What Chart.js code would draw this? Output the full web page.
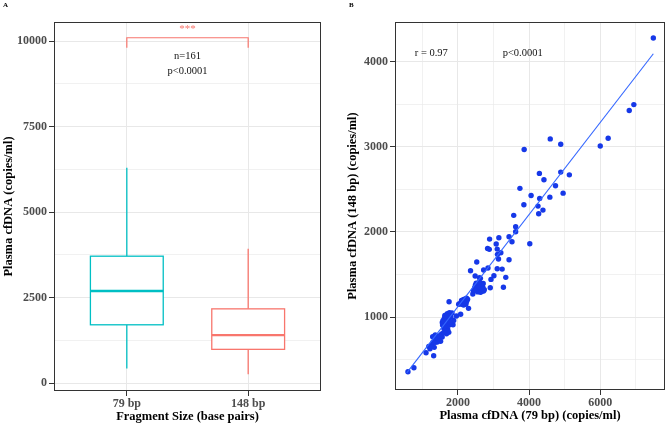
<!DOCTYPE html>
<html><head><meta charset="utf-8">
<script src="https://cdn.jsdelivr.net/npm/chart.js@4.4.1/dist/chart.umd.min.js"></script>
<style>
html,body{margin:0;padding:0;background:#fff;}
#wrap{position:relative;width:669px;height:424px;overflow:hidden;background:#fff;}
#ca{position:absolute;left:0;top:0;width:335px;height:424px;}
#cb{position:absolute;left:335px;top:0;width:334px;height:424px;}
.lab{position:absolute;font:bold 7px 'Liberation Serif';color:#000;}
</style></head><body>
<div id="wrap">
<canvas id="ca" width="335" height="424"></canvas>
<canvas id="cb" width="334" height="424"></canvas>
<div class="lab" style="left:3px;top:1px">A</div>
<div class="lab" style="left:349px;top:1px">B</div>
</div>
<script>
// ---------- Panel A data (box plot) ----------
const groups = ['79 bp', '148 bp'];
const whiskerLow = [427, 262];
const q1 = [1706, 988];
const medians = [2695, 1404];
const q3 = [3712, 2172];
const whiskerHigh = [6300, 3933];
const yTicksA = [0, 2500, 5000, 7500, 10000];
const yMinorA = [1250, 3750, 6250, 8750];
const bracketY = 10100;
const bracketTickY = 9810;
const sigLabel = '***';
const sigY = 10340;
const nLabel = 'n=161';
const nY = 9560;
const pLabelA = 'p<0.0001';
const pYA = 9120;

// ---------- Panel B data (scatter, [79 bp, 148 bp] copies/ml) ----------
const cfdnaPairs = [
 [7492,4277],[6815,3425],[6944,3495],[4594,3092],[4889,3029],[6000,3009],[6222,3100],
 [3861,2968],[4289,2687],[4417,2612],[4889,2702],[5131,2670],[3742,2511],[4742,2541],[4956,2455],
 [4056,2428],[4297,2393],[4583,2408],[3853,2318],[4250,2303],[4389,2256],[3567,2194],[4269,2213],
 [3622,2060],[3622,2001],[3436,1942],[3519,1884],[4019,1860],[2889,1915],[3150,1931],[3075,1857],
 [2833,1806],[2881,1795],[3103,1798],[3111,1736],[3205,1755],[3139,1681],[3436,1673],[2528,1646],
 [2353,1543],[2722,1552],[2844,1575],[3103,1567],[3242,1563],[2483,1481],[2631,1454],[3011,1485],
 [3344,1466],[2928,1442],[2603,1461],
 [2511,1396],[2583,1364],[2678,1376],[2539,1325],[2650,1329],[2694,1317],[2622,1305],[2436,1309],
 [2908,1344],[3278,1349],[2417,1270],
 [2560,1350],[2600,1385],[2700,1345],[2620,1345],[2580,1310],[2740,1320],[2470,1345],[2660,1300],
 [2540,1395],[2590,1330],[2640,1360],[2710,1395],[2490,1375],[2555,1295],[2690,1360],[2610,1410],
 [2525,1340],[2665,1390],[2575,1400],[2720,1305],[2635,1290],[2460,1320],[2600,1355],[2680,1330],
 [2178,1208],[2075,1032],[2047,1156],[2122,1176],[2186,1180],[2220,1150],[2250,1190],[2160,1140],
 [2297,1102],[1750,1180],[1956,1012],[2140,1200],[2200,1205],[2230,1170],[2110,1150],[2270,1210],
 [2190,1165],[2100,1195],[2150,1185],[2240,1220],[2020,1150],
 [1658,1004],[1789,1035],[1833,1047],[1631,1020],[1567,906],[1658,879],[1714,851],[1742,820],
 [1686,933],[1769,910],[1825,930],[1861,910],[1678,804],[1556,765],[1456,769],[1361,789],
 [1289,769],[1511,715],[1417,707],[1361,703],[1269,680],[1333,644],[1214,628],[1103,581],
 [1317,546],[761,405],[594,358],
 [1620,990],[1700,1040],[1560,935],[1720,900],[1650,850],[1600,870],[1700,975],[1750,960],
 [1800,1000],[1880,960],[1450,740],[1400,760],[1300,705],[1180,655],[1520,780],[1640,950],
 [1760,1050],[1600,820],
 [1580,960],[1680,990],[1740,1010],[1690,900],[1620,890],[1780,940],[1540,800],[1480,780],
 [1330,760],[1240,650]
];
const fitX = [560, 7492];
const fitY = [345, 4092];
const xTicksB = [2000, 4000, 6000];
const xMinorB = [1000, 3000, 5000, 7000];
const yTicksB = [1000, 2000, 3000, 4000];
const yMinorB = [500, 1500, 2500, 3500];
const rLabel = 'r = 0.97';
const rLabelX = 1250;
const pLabelB = 'p<0.0001';
const pLabelBX = 3820;
const labelBY = 4100;

// ---------- styling helpers ----------
const SERIF = "'Liberation Serif', 'Times New Roman', serif";
const GRID = '#e8e8e8';
const AXIS = '#333333';
const tickFont = {family: SERIF, size: 12, weight: 'bold'};
const titleFont = {family: SERIF, size: 12.5, weight: 'bold'};

function tickBuilder(major, minor) {
  return scale => {
    const all = major.map(v => ({value: v, isMajor: true}))
      .concat(minor.map(v => ({value: v, isMajor: false})));
    all.sort((a, b) => a.value - b.value);
    scale.ticks = all;
  };
}
const gridOpts = {
  color: ctx => GRID,
  lineWidth: ctx => (ctx.tick && ctx.tick.isMajor) ? 1 : 0.6,
  tickColor: ctx => (ctx.tick && ctx.tick.isMajor) ? AXIS : 'rgba(0,0,0,0)',
  tickLength: 5,
  tickWidth: 1,
  drawTicks: true
};
const frame = {
  id: 'frame',
  afterDraw(chart) {
    const {ctx, chartArea: a} = chart;
    ctx.save();
    ctx.strokeStyle = AXIS;
    ctx.lineWidth = 1;
    const l = Math.round(a.left) + 0.5, t = Math.round(a.top) + 0.5;
    const r = Math.round(a.right) - 0.5, b = Math.round(a.bottom) - 0.5;
    ctx.strokeRect(l, t, r - l, b - t);
    ctx.restore();
  }
};

// ---------- Panel A ----------
const boxColors = ['#00BFC4', '#F8766D'];
const boxPlugin = {
  id: 'boxes',
  afterDatasetsDraw(chart) {
    const ctx = chart.ctx, xs = chart.scales.x, ys = chart.scales.y;
    ctx.save();
    groups.forEach((g, i) => {
      const cx = xs.getPixelForValue(i + 1);
      const half = xs.getPixelForValue(i + 1 + 0.3) - cx;
      const yLo = ys.getPixelForValue(whiskerLow[i]);
      const yQ1 = ys.getPixelForValue(q1[i]);
      const yMed = ys.getPixelForValue(medians[i]);
      const yQ3 = ys.getPixelForValue(q3[i]);
      const yHi = ys.getPixelForValue(whiskerHigh[i]);
      ctx.strokeStyle = boxColors[i];
      ctx.lineWidth = 1.3;
      ctx.beginPath();
      ctx.moveTo(cx, yHi); ctx.lineTo(cx, yQ3);
      ctx.moveTo(cx, yQ1); ctx.lineTo(cx, yLo);
      ctx.stroke();
      ctx.fillStyle = '#ffffff';
      ctx.fillRect(cx - half, yQ3, 2 * half, yQ1 - yQ3);
      ctx.strokeRect(cx - half, yQ3, 2 * half, yQ1 - yQ3);
      ctx.lineWidth = 2.4;
      ctx.beginPath();
      ctx.moveTo(cx - half, yMed); ctx.lineTo(cx + half, yMed);
      ctx.stroke();
    });
    // significance bracket
    const x1 = xs.getPixelForValue(1), x2 = xs.getPixelForValue(2);
    const yb = ys.getPixelForValue(bracketY), yt = ys.getPixelForValue(bracketTickY);
    ctx.strokeStyle = '#F8766D';
    ctx.lineWidth = 1.2;
    ctx.beginPath();
    ctx.moveTo(x1, yt); ctx.lineTo(x1, yb); ctx.lineTo(x2, yb); ctx.lineTo(x2, yt);
    ctx.stroke();
    const xm = (x1 + x2) / 2;
    ctx.textAlign = 'center';
    ctx.textBaseline = 'middle';
    ctx.fillStyle = '#F8766D';
    ctx.font = "11px " + SERIF;
    ctx.fillText(sigLabel, xm, ys.getPixelForValue(sigY));
    ctx.fillStyle = '#111';
    ctx.font = "10.5px " + SERIF;
    ctx.fillText(nLabel, xm, ys.getPixelForValue(nY));
    ctx.fillText(pLabelA, xm, ys.getPixelForValue(pYA));
    ctx.restore();
  }
};

new Chart(document.getElementById('ca'), {
  type: 'scatter',
  data: {datasets: [{data: medians.map((m, i) => ({x: i + 1, y: m})), pointRadius: 0}]},
  options: {
    responsive: false, animation: false, devicePixelRatio: 1,
    layout: {padding: {left: 0, top: 22, right: 14, bottom: 0}},
    plugins: {legend: {display: false}, tooltip: {enabled: false}},
    scales: {
      x: {
        type: 'linear', min: 0.4, max: 2.6,
        afterBuildTicks: tickBuilder([1, 2], []),
        afterFit: s => { s.height = 33; },
        grid: gridOpts, border: {display: false},
        ticks: {autoSkip: false, maxRotation: 0, padding: 1, color: '#4d4d4d', font: tickFont,
                callback: (v) => groups[Math.round(v) - 1]},
        title: {display: true, text: 'Fragment Size (base pairs)', color: '#000', font: titleFont, padding: {top: 0, bottom: 0}}
      },
      y: {
        type: 'linear', min: -230, max: 10560,
        afterBuildTicks: tickBuilder(yTicksA, yMinorA),
        afterFit: s => { s.width = 54; },
        grid: gridOpts, border: {display: false},
        ticks: {autoSkip: false, padding: 2, color: '#4d4d4d', font: tickFont,
                callback: (v, i, t) => t[i].isMajor ? String(v) : ''},
        title: {display: true, text: 'Plasma cfDNA (copies/ml)', color: '#000', font: titleFont, padding: {top: 1, bottom: 0}}
      }
    }
  },
  plugins: [boxPlugin, frame]
});

// ---------- Panel B ----------
const textB = {
  id: 'textB',
  afterDatasetsDraw(chart) {
    const ctx = chart.ctx, xs = chart.scales.x, ys = chart.scales.y;
    ctx.save();
    ctx.fillStyle = '#111';
    ctx.font = "10.5px " + SERIF;
    ctx.textAlign = 'center';
    ctx.textBaseline = 'middle';
    ctx.fillText(rLabel, xs.getPixelForValue(rLabelX), ys.getPixelForValue(labelBY));
    ctx.fillText(pLabelB, xs.getPixelForValue(pLabelBX), ys.getPixelForValue(labelBY));
    ctx.restore();
  }
};

new Chart(document.getElementById('cb'), {
  type: 'scatter',
  data: {datasets: [
    {type: 'line', data: fitX.map((x, i) => ({x: x, y: fitY[i]})), borderColor: '#3366FF',
     borderWidth: 1.1, pointRadius: 0, fill: false, tension: 0},
    {data: cfdnaPairs.map(p => ({x: p[0], y: p[1]})), backgroundColor: '#1638e8',
     borderWidth: 0, pointRadius: 2.7}
  ]},
  options: {
    responsive: false, animation: false, devicePixelRatio: 1,
    layout: {padding: {left: 0, top: 22, right: 1, bottom: 0}},
    plugins: {legend: {display: false}, tooltip: {enabled: false}},
    scales: {
      x: {
        type: 'linear', min: 230, max: 7820,
        afterBuildTicks: tickBuilder(xTicksB, xMinorB),
        afterFit: s => { s.height = 34; },
        grid: gridOpts, border: {display: false},
        ticks: {autoSkip: false, maxRotation: 0, padding: 1, color: '#4d4d4d', font: tickFont,
                callback: (v, i, t) => t[i].isMajor ? String(v) : ''},
        title: {display: true, text: 'Plasma cfDNA (79 bp) (copies/ml)', color: '#000', font: titleFont, padding: {top: 0, bottom: 1}}
      },
      y: {
        type: 'linear', min: 143, max: 4465,
        afterBuildTicks: tickBuilder(yTicksB, yMinorB),
        afterFit: s => { s.width = 60; },
        grid: gridOpts, border: {display: false},
        ticks: {autoSkip: false, padding: 2, color: '#4d4d4d', font: tickFont,
                callback: (v, i, t) => t[i].isMajor ? String(v) : ''},
        title: {display: true, text: 'Plasma cfDNA (148 bp) (copies/ml)', color: '#000', font: titleFont, padding: {top: 10, bottom: 0}}
      }
    }
  },
  plugins: [textB, frame]
});
</script>
</body></html>
